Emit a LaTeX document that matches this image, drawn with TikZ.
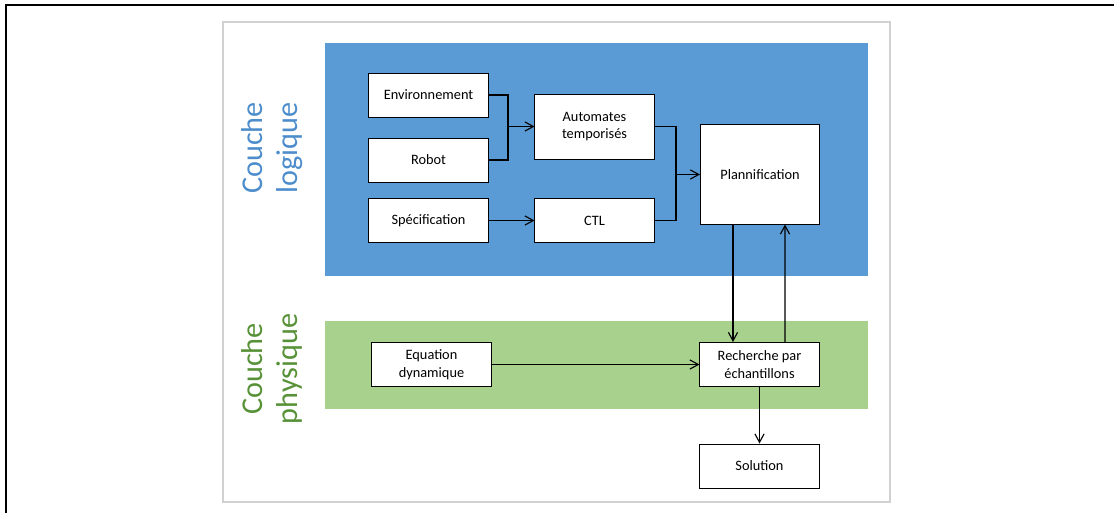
\documentclass[tikz,border=0pt]{standalone}
\usepackage{fontspec}
\setmainfont{Carlito}
\usepackage{xcolor}
\usetikzlibrary{arrows.meta,calc}

\definecolor{logicfill}{RGB}{91,155,213}
\definecolor{logictext}{RGB}{78,141,203}
\definecolor{physfill}{RGB}{169,209,142}
\definecolor{phystext}{RGB}{88,146,56}

\begin{document}
\begin{tikzpicture}[x=0.025cm, y=-0.025cm,
  box/.style={draw=black, line width=0.7pt, fill=white, minimum width=2.975cm, minimum height=1.1cm,
    inner sep=0pt, align=center, font=\fontsize{10.2}{12.6}\selectfont},
  layertitle/.style={rotate=90, align=center, font=\fontsize{21.5}{25}\selectfont},
  arr/.style={-{Straight Barb[length=6pt,width=6.5pt]}, line width=0.8pt},
  link/.style={line width=0.8pt}]
\useasboundingbox (0,0) rectangle (1114,513);

% frames
\draw[line width=1pt] (6,540) -- (6,5) -- (1140,5);
\draw[black!18, line width=0.8pt] (223,22) rectangle (890,502);

% layers
\fill[logicfill] (325,43) rectangle (868,276);
\fill[physfill] (325,321) rectangle (868,409);
\node[layertitle, text=logictext] (logique) at (272,148) {Couche\\logique};
\node[layertitle, text=phystext] (physique) at (272,369) {Couche\\physique};

% logic layer
\node[box] (env) at (428.5,95) {Environnement};
\node[box] (robot) at (428.5,160) {Robot};
\node[box] (spec) at (428.5,220.5) {Spécification};
\node[box, minimum height=1.625cm] (auto) at (594.5,126.5) {Automates\\temporisés};
\node[box] (ctl) at (594.5,220.5) {CTL};
\node[box, minimum height=2.475cm] (plan) at (760,174.5) {Plannification};

% physical layer
\node[box] (equ) at (431.5,364.5) {Equation\\dynamique};
\node[box] (rech) at (759.5,364.5) {Recherche par\\échantillons};
\node[box] (sol) at (759.5,466) {Solution};

% junctions
\coordinate (j1) at (508,126.5);
\coordinate (j2) at (676,174.5);

% connectors
\draw[link] (env.east) -| (j1);
\draw[link] (robot.east) -| (j1);
\draw[arr] (j1) -- (auto.west);
\draw[arr] (spec) -- (ctl);
\draw[link] (auto.east) -| (j2);
\draw[link] (ctl.east) -| (j2);
\draw[arr] (j2) -- (plan.west);
\draw[arr] ($(plan.south)+(-27,0)$) -- ($(rech.north)+(-26.5,0)$);
\draw[arr] ($(rech.north)+(25.5,0)$) -- ($(plan.south)+(25,0)$);
\draw[arr] (equ) -- (rech);
\draw[arr] (rech) -- (sol);

\end{tikzpicture}
\end{document}
